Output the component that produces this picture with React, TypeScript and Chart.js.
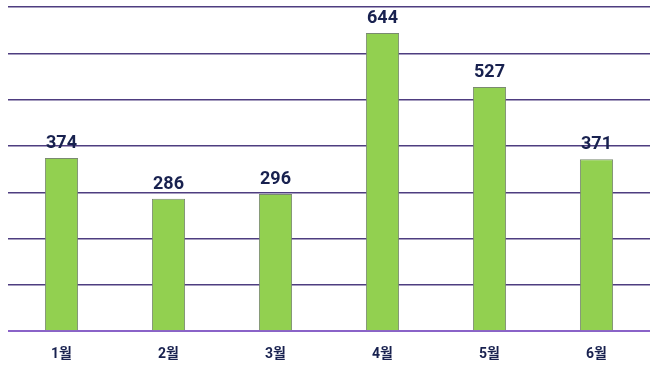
import React, { useEffect, useRef } from "react";
import { Chart, registerables } from "chart.js";

Chart.register(...registerables);

const categories = ["1월", "2월", "3월", "4월", "5월", "6월"];
const values = [374, 286, 296, 644, 527, 371];
const yMax = 700;
const yStep = 100;

const valueLabels = {
  id: "valueLabels",
  afterDatasetsDraw(chart: any) {
    const ctx = chart.ctx;
    const meta = chart.getDatasetMeta(0);
    ctx.save();
    ctx.font = "bold 18px Roboto, 'Noto Sans CJK KR', sans-serif";
    ctx.fillStyle = "#18214f";
    ctx.textAlign = "center";
    ctx.textBaseline = "alphabetic";
    meta.data.forEach((bar: any, i: number) => {
      ctx.fillText(String(values[i]), bar.x, bar.y - 10);
    });
    ctx.restore();
  },
};

export default function App() {
  const ref = useRef<HTMLCanvasElement>(null);
  useEffect(() => {
    document.body.style.margin = "0";
    const chart = new Chart(ref.current!, {
      type: "bar",
      data: {
        labels: categories,
        datasets: [
          {
            data: values,
            backgroundColor: "#92d050",
            borderColor: "#7a8a70",
            borderWidth: 1,
            barPercentage: 0.62,
            categoryPercentage: 0.5,
          },
        ],
      },
      options: {
        responsive: false,
        animation: false,
        layout: { padding: { left: 8, right: 8, top: 7, bottom: -8 } },
        plugins: { legend: { display: false }, tooltip: { enabled: false } },
        scales: {
          x: {
            grid: { display: false, drawTicks: false },
            border: { display: false },
            ticks: {
              color: "#18214f",
              font: { family: "Roboto, 'Noto Sans CJK KR', sans-serif", size: 14, weight: "bold" },
              padding: 15,
            },
          },
          y: {
            min: 0,
            max: yMax,
            ticks: { display: false, stepSize: yStep },
            border: { display: false },
            grid: {
              color: (c: any) => (c.tick && c.tick.value === 0 ? "#8a63c8" : "#4e3d80"),
              lineWidth: (c: any) => (c.tick && c.tick.value === 0 ? 2 : 1.5),
              drawTicks: false,
            },
          },
        },
      },
      plugins: [valueLabels],
    });
    return () => chart.destroy();
  }, []);
  return <canvas ref={ref} width={658} height={370} style={{ display: "block" }} />;
}
